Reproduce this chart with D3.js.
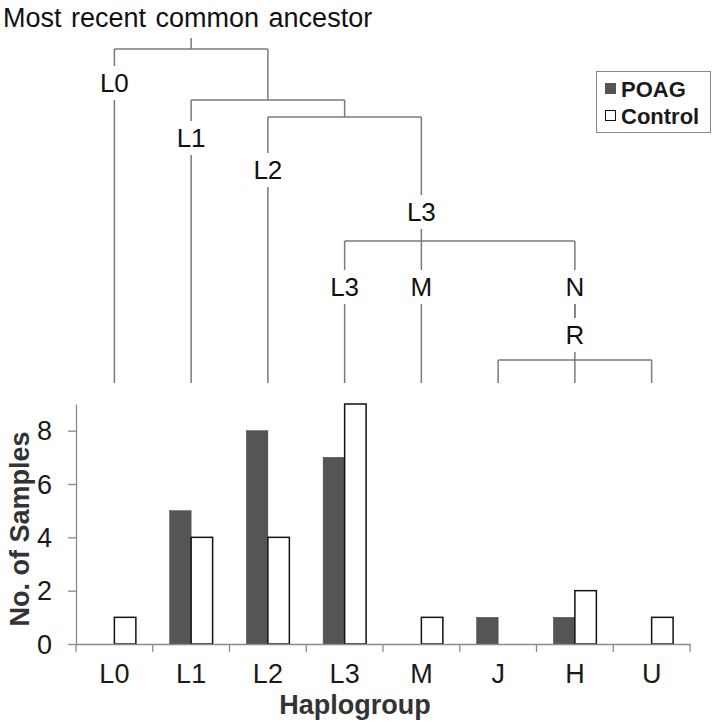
<!DOCTYPE html>
<html>
<head>
<meta charset="utf-8">
<script src="https://cdn.jsdelivr.net/npm/d3@7/dist/d3.min.js"></script>
<style>
  html, body { margin: 0; padding: 0; background: #fff; }
  svg { display: block; font-family: "Liberation Sans", Arial, sans-serif; }
</style>
</head>
<body>
<svg id="chart" width="719" height="725"></svg>
<script>
// ---------- DATA ----------
const categories = ["L0", "L1", "L2", "L3", "M", "J", "H", "U"];
const seriesNames = ["POAG", "Control"];
const poagValues    = [0, 5, 8, 7, 0, 1, 1, 0];
const controlValues = [1, 4, 4, 9, 1, 0, 2, 1];
const yTicks = [0, 2, 4, 6, 8];
const yMax = 9;
const titleText = "Most recent common ancestor";
const xAxisTitle = "Haplogroup";
const yAxisTitle = "No. of Samples";

// phylogenetic tree structure (leaves refer to categories)
const tree = {
  id: "root",
  children: [
    { id: "L0", label: "L0", leaf: "L0" },
    { id: "A", children: [
      { id: "L1", label: "L1", leaf: "L1" },
      { id: "B", children: [
        { id: "L2", label: "L2", leaf: "L2" },
        { id: "L3node", label: "L3", children: [
          { id: "L3leaf", label: "L3", leaf: "L3" },
          { id: "Mleaf", label: "M", leaf: "M" },
          { id: "N", label: "N", children: [
            { id: "R", label: "R", children: [
              { id: "J", leaf: "J" },
              { id: "H", leaf: "H" },
              { id: "U", leaf: "U" }
            ]}
          ]}
        ]}
      ]}
    ]}
  ]
};

// ---------- LAYOUT ----------
const svg = d3.select("#chart");
const plot = { left: 76, right: 690, top: 404, bottom: 644 };
const colors = { POAG: "#555555", Control: "#ffffff" };

const x = d3.scaleBand().domain(categories).range([plot.left, plot.right])
  .paddingInner(0.44).paddingOuter(0.22);
const xs = d3.scaleBand().domain(seriesNames).range([0, x.bandwidth()]);
const y = d3.scaleLinear().domain([0, yMax]).range([plot.bottom, plot.top]);

// ---------- BARS ----------
const rows = categories.map((c, i) => ({ cat: c, POAG: poagValues[i], Control: controlValues[i] }));
const g = svg.append("g");
g.selectAll("g.cat").data(rows).join("g").attr("class", "cat")
  .attr("transform", d => `translate(${x(d.cat)},0)`)
  .selectAll("rect").data(d => seriesNames.map(s => ({ s, v: d[s] })).filter(e => e.v > 0))
  .join("rect")
  .attr("x", e => xs(e.s))
  .attr("y", e => y(e.v))
  .attr("width", xs.bandwidth())
  .attr("height", e => y(0) - y(e.v))
  .attr("fill", e => colors[e.s])
  .attr("stroke", e => e.s === "Control" ? "#111" : "#444")
  .attr("stroke-width", e => e.s === "Control" ? 1.5 : 0.5);

// ---------- AXES ----------
const axisColor = "#8a8a8a";
const yAxis = svg.append("g").attr("transform", `translate(${plot.left},0)`)
  .call(d3.axisLeft(y).tickValues(yTicks).tickSize(8).tickPadding(16).tickSizeOuter(0));
yAxis.select(".domain").attr("stroke", axisColor).attr("stroke-width", 1.3);
yAxis.selectAll(".tick line").attr("stroke", axisColor).attr("stroke-width", 1.3);
yAxis.selectAll(".tick text").attr("font-size", 27).attr("fill", "#1a1a1a")
  .attr("font-family", "Liberation Sans, Arial, sans-serif").attr("dy", "0.34em");

const xAxis = svg.append("g").attr("transform", `translate(0,${plot.bottom})`)
  .call(d3.axisBottom(x).tickSize(0).tickPadding(20).tickSizeOuter(0));
xAxis.select(".domain").attr("stroke", axisColor).attr("stroke-width", 1.3);
xAxis.selectAll(".tick text").attr("font-size", 27).attr("fill", "#1a1a1a")
  .attr("font-family", "Liberation Sans, Arial, sans-serif");
// category boundary ticks
const bounds = categories.map(c => x(c) - x.step() * x.paddingInner() / 2).concat([plot.right]);
xAxis.selectAll("line.bound").data(bounds).join("line").attr("class", "bound")
  .attr("x1", d => d).attr("x2", d => d).attr("y1", 0).attr("y2", 8)
  .attr("stroke", axisColor).attr("stroke-width", 1.3);

svg.append("text").attr("x", 355).attr("y", 714).attr("text-anchor", "middle")
  .attr("font-size", 27).attr("font-weight", "bold").attr("fill", "#333")
  .text(xAxisTitle);
svg.append("text").attr("transform", `translate(29,${(plot.top + plot.bottom) / 2 + 5}) rotate(-90)`)
  .attr("text-anchor", "middle").attr("font-size", 27).attr("font-weight", "bold").attr("fill", "#333")
  .text(yAxisTitle);

// ---------- LEGEND ----------
const lg = svg.append("g");
lg.append("rect").attr("x", 596.5).attr("y", 71.5).attr("width", 114).attr("height", 61)
  .attr("fill", "#fff").attr("stroke", "#888").attr("stroke-width", 1);
seriesNames.forEach((s, i) => {
  const yy = 83 + i * 27;
  lg.append("rect").attr("x", 605.5).attr("y", yy + 0.5).attr("width", 10).attr("height", 10)
    .attr("fill", colors[s]).attr("stroke", s === "Control" ? "#111" : "#555").attr("stroke-width", 1);
  lg.append("text").attr("x", 621).attr("y", yy + 13.5).attr("font-size", 22)
    .attr("font-weight", "bold").attr("fill", "#1a1a1a").text(s);
});

// ---------- TREE ----------
svg.append("text").attr("x", 3).attr("y", 27).attr("font-size", 27).attr("fill", "#111")
  .attr("word-spacing", 2).text(titleText);

// vertical layout of the tree (bar heights and label centers)
const barY = { root: 49, A: 100, B: 117, L3node: 241, N: null, R: 360 };
const labelY = { L0: 83, L1: 138, L2: 170, L3node: 212, L3leaf: 287, Mleaf: 287, N: 287, R: 335 };
const leafEnd = 383;
const gap = 17;

const root = d3.hierarchy(tree);
// x positions: leaves at category centers; internal nodes centred on children
root.eachAfter(n => {
  if (n.data.leaf) n.xp = x(n.data.leaf) + x.bandwidth() / 2;
  else if (n.children.length === 1) n.xp = n.children[0].xp;
  else if (n.children.length % 2 === 1) n.xp = n.children[(n.children.length - 1) / 2].xp;
  else n.xp = (n.children[0].xp + n.children[n.children.length - 1].xp) / 2;
});

const treeG = svg.append("g").attr("stroke", "#7a7a7a").attr("stroke-width", 1.5).attr("fill", "none");
const line = (x1, y1, x2, y2) => treeG.append("line")
  .attr("x1", x1).attr("y1", y1).attr("x2", x2).attr("y2", y2);
const labelsG = svg.append("g");

// root stub
line(root.xp, 38, root.xp, barY.root);

root.each(n => {
  if (n.parent == null) return;
  const top = n.parent.data.id === "N" ? labelY.N + gap : barY[n.parent.data.id];
  let bottom;
  if (n.data.leaf) bottom = leafEnd;
  else if (n.data.id === "N") bottom = labelY.R - gap;
  else bottom = barY[n.data.id];
  const ly = labelY[n.data.id];
  if (n.data.id === "N") {
    line(n.xp, top, n.xp, ly - gap);
    line(n.xp, ly + gap, n.xp, labelY.R - gap);
  } else if (ly != null) {
    line(n.xp, top, n.xp, ly - gap);
    line(n.xp, ly + gap, n.xp, bottom);
  } else {
    line(n.xp, top, n.xp, bottom);
  }
  if (ly != null) {
    labelsG.append("text").attr("x", n.xp).attr("y", ly).attr("dy", "0.35em")
      .attr("text-anchor", "middle").attr("font-size", 26).attr("fill", "#111")
      .text(n.data.label);
  }
});
// horizontal bars
root.each(n => {
  if (!n.children || n.children.length < 2) return;
  const by = barY[n.data.id];
  line(n.children[0].xp, by, n.children[n.children.length - 1].xp, by);
});
</script>
</body>
</html>
